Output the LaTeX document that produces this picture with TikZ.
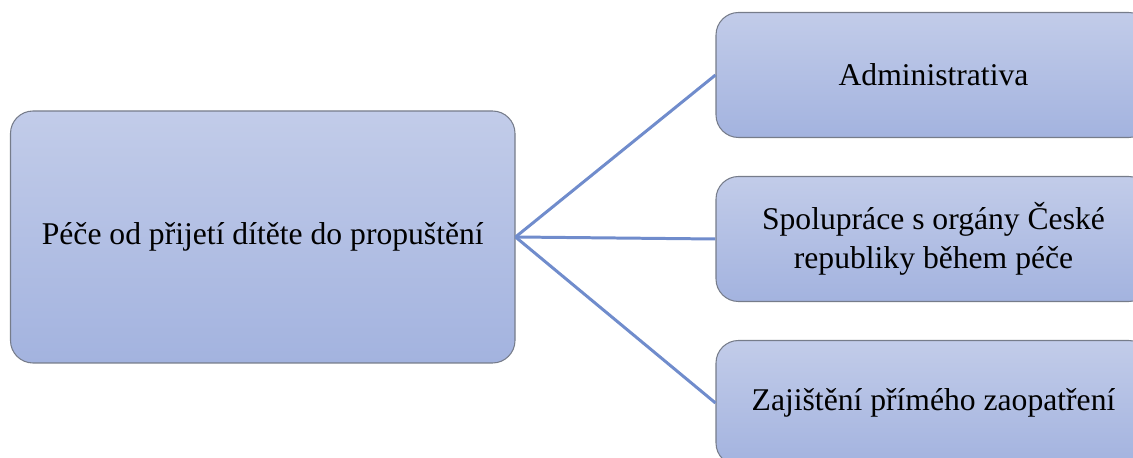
\documentclass[tikz,border=0pt]{standalone}
\usepackage{fontspec}
\setmainfont{Liberation Serif}
\usetikzlibrary{positioning}

\definecolor{boxtop}{RGB}{194,204,233}
\definecolor{boxbot}{RGB}{163,179,223}
\definecolor{boxline}{RGB}{118,124,138}
\definecolor{linkblue}{RGB}{112,140,204}

\tikzset{
    pecebox/.style={draw=boxline, line width=0.6pt, rounded corners=0.45cm,
        top color=boxtop, bottom color=boxbot, align=center,
        font=\fontsize{18}{22}\selectfont, inner sep=0pt},
    link/.style={linkblue, line width=1.7pt}
}

\begin{document}
\begin{tikzpicture}
        % okraje obrázku
        \useasboundingbox (0,0) rectangle (22.66,-9.16);
        \clip (0,0) rectangle (22.66,-9.16);
        % hlavní blok
        \node[pecebox, minimum width=10.09cm, minimum height=5.04cm] (pece) at (5.255,-4.74) {Péče od přijetí dítěte do propuštění};
        % pravé bloky
        \node[pecebox, minimum width=8.7cm, minimum height=2.5cm] (admin) at (18.67,-1.5) {Administrativa};
        \node[pecebox, minimum width=8.7cm, minimum height=2.5cm] (organy) at (18.67,-4.78) {Spolupráce s orgány České\\republiky během péče};
        \node[pecebox, minimum width=8.7cm, minimum height=2.5cm] (zaopatreni) at (18.67,-8.06) {Zajištění přímého zaopatření};
        % spojnice
        \draw[link] (pece.east) -- (admin.west);
        \draw[link] (pece.east) -- (organy.west);
        \draw[link] (pece.east) -- (zaopatreni.west);
\end{tikzpicture}
\end{document}
